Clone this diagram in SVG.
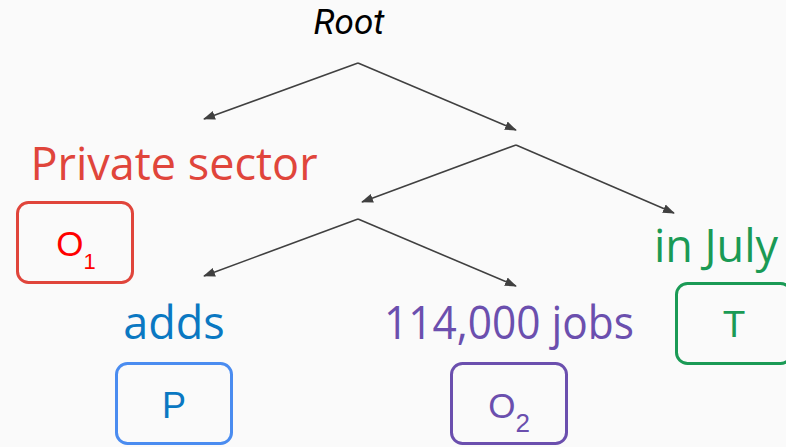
<svg xmlns="http://www.w3.org/2000/svg" width="786" height="447" viewBox="0 0 786 447">
<defs>
<marker id="ah" viewBox="0 0 12 10" refX="11" refY="5" markerWidth="12" markerHeight="10" markerUnits="userSpaceOnUse" orient="auto">
<path d="M0,0.5 L12,5 L0,9.5 z" fill="#404040"/>
</marker>
<style>
.lbl{font-family:"Open Sans","Liberation Sans",sans-serif;font-size:45px;text-anchor:middle}
.box{fill:none;stroke-width:3}
.sym{font-family:"Liberation Sans",Arial,sans-serif;text-anchor:middle}
.edge{stroke:#404040;stroke-width:1.6;fill:none;marker-end:url(#ah)}
</style>
</defs>
<rect width="786" height="447" fill="#fafafa"/>
<g id="root"><text x="349" y="34" font-family="Roboto,'Liberation Sans',sans-serif" font-style="italic" font-size="35" text-anchor="middle" fill="#000">Root</text></g>
<g id="connectors">
<path class="edge" d="M358,63 L204,119"/>
<path class="edge" d="M358,63 L516,130"/>
<path class="edge" d="M516,145 L362,202"/>
<path class="edge" d="M516,145 L674,213"/>
<path class="edge" d="M358,219 L204,276"/>
<path class="edge" d="M358,219 L516,286"/>
</g>
<g id="private-sector">
<text class="lbl" x="174" y="180" fill="#e0453b">Private sector</text>
<rect class="box" x="17.5" y="202.5" width="115" height="80" rx="11" stroke="#e0453b"/>
<text class="sym" x="76" y="256" font-size="35" fill="#ff0000">O<tspan font-size="22" dy="13">1</tspan></text>
</g>
<g id="in-july">
<text class="lbl" x="716" y="262" fill="#1a9a55">in July</text>
<rect class="box" x="676.5" y="283.5" width="115" height="80" rx="11" stroke="#1a9a55"/>
<text class="sym" x="734" y="337" font-size="37" fill="#1a9a55">T</text>
</g>
<g id="adds">
<text class="lbl" x="174" y="339" fill="#0a78c2">adds</text>
<rect class="box" x="116.5" y="363.5" width="115" height="80" rx="11" stroke="#4a8cf0"/>
<text class="sym" x="174" y="418" font-size="36" fill="#0a78c2">P</text>
</g>
<g id="jobs">
<text class="lbl" x="509" y="339" fill="#6b4fae" textLength="250" lengthAdjust="spacingAndGlyphs">114,000 jobs</text>
<rect class="box" x="451.5" y="363.5" width="115" height="80" rx="11" stroke="#6b4fae"/>
<text class="sym" x="509" y="418" font-size="35" fill="#6b4fae">O<tspan font-size="26" dy="14">2</tspan></text>
</g>
</svg>
